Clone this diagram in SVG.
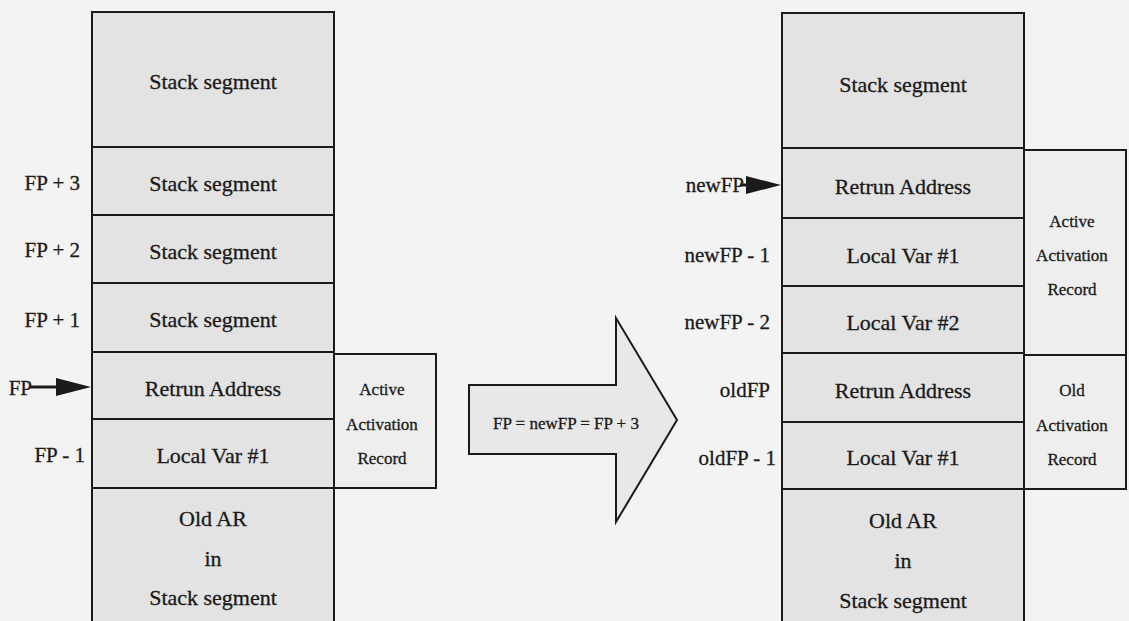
<svg xmlns="http://www.w3.org/2000/svg" width="1129" height="621" viewBox="0 0 1129 621">
<style>
.cell{fill:#e3e3e3;stroke:#1a1a1a;stroke-width:2}
.side{fill:#eeeeee;stroke:#1a1a1a;stroke-width:2}
</style>
<rect width="1129" height="621" fill="#f3f3f3"/>
<g id="left-stack">
<rect class="cell" x="92" y="12" width="242" height="135"/>
<rect class="cell" x="92" y="147" width="242" height="68"/>
<rect class="cell" x="92" y="215" width="242" height="68"/>
<rect class="cell" x="92" y="283" width="242" height="69"/>
<rect class="cell" x="92" y="352" width="242" height="67"/>
<rect class="cell" x="92" y="419" width="242" height="69"/>
<rect class="cell" x="92" y="488" width="242" height="140"/>
<rect class="side" x="334" y="354" width="102" height="134"/>
</g>
<g id="right-stack">
<rect class="cell" x="782" y="13" width="242" height="135"/>
<rect class="cell" x="782" y="148" width="242" height="70"/>
<rect class="cell" x="782" y="218" width="242" height="68"/>
<rect class="cell" x="782" y="286" width="242" height="67"/>
<rect class="cell" x="782" y="353" width="242" height="69"/>
<rect class="cell" x="782" y="422" width="242" height="67"/>
<rect class="cell" x="782" y="489" width="242" height="140"/>
<rect class="side" x="1024" y="150" width="102" height="205"/>
<rect class="side" x="1024" y="355" width="102" height="134"/>
</g>
<g id="transition">
<polygon points="469,385 616,385 616,318 677,420 616,522 616,454 469,454" fill="#e8e8e8" stroke="#1a1a1a" stroke-width="2"/>
</g>
<g id="connectors" fill="#1a1a1a" stroke="#1a1a1a">
<line x1="30" y1="387" x2="60" y2="387" stroke-width="3"/>
<polygon points="56,378 91,387 56,396" stroke="none"/>
<line x1="740" y1="185" x2="750" y2="185" stroke-width="3"/>
<polygon points="746,176 781,185 746,194" stroke="none"/>
</g>
<g id="texts" font-family="Liberation Serif, serif" fill="#1a1a1a" stroke="#1a1a1a" stroke-width="0.3" dominant-baseline="central">
<g id="cell-texts" font-size="22" text-anchor="middle">
<text x="213" y="81">Stack segment</text>
<text x="213" y="183">Stack segment</text>
<text x="213" y="251">Stack segment</text>
<text x="213" y="319">Stack segment</text>
<text x="213" y="388">Retrun Address</text>
<text x="213" y="455">Local Var #1</text>
<text x="213" y="518">Old AR</text>
<text x="213" y="558">in</text>
<text x="213" y="597">Stack segment</text>
<text x="903" y="84">Stack segment</text>
<text x="903" y="186">Retrun Address</text>
<text x="903" y="255">Local Var #1</text>
<text x="903" y="322">Local Var #2</text>
<text x="903" y="390">Retrun Address</text>
<text x="903" y="457">Local Var #1</text>
<text x="903" y="520">Old AR</text>
<text x="903" y="560">in</text>
<text x="903" y="600">Stack segment</text>
</g>
<g id="side-texts" font-size="17" text-anchor="middle">
<text x="382" y="389">Active</text>
<text x="382" y="424">Activation</text>
<text x="382" y="458">Record</text>
<text x="1072" y="221">Active</text>
<text x="1072" y="255">Activation</text>
<text x="1072" y="289">Record</text>
<text x="1072" y="390">Old</text>
<text x="1072" y="425">Activation</text>
<text x="1072" y="459">Record</text>
<text x="566" y="423">FP = newFP = FP + 3</text>
</g>
<g id="pointer-labels" font-size="21" text-anchor="end">
<text x="80" y="183">FP + 3</text>
<text x="80" y="250">FP + 2</text>
<text x="80" y="320">FP + 1</text>
<text x="32" y="388">FP</text>
<text x="85" y="455">FP - 1</text>
<text x="744" y="185">newFP</text>
<text x="770" y="255">newFP - 1</text>
<text x="770" y="322">newFP - 2</text>
<text x="770" y="390">oldFP</text>
<text x="776" y="458">oldFP - 1</text>
</g>
</g>
</svg>
